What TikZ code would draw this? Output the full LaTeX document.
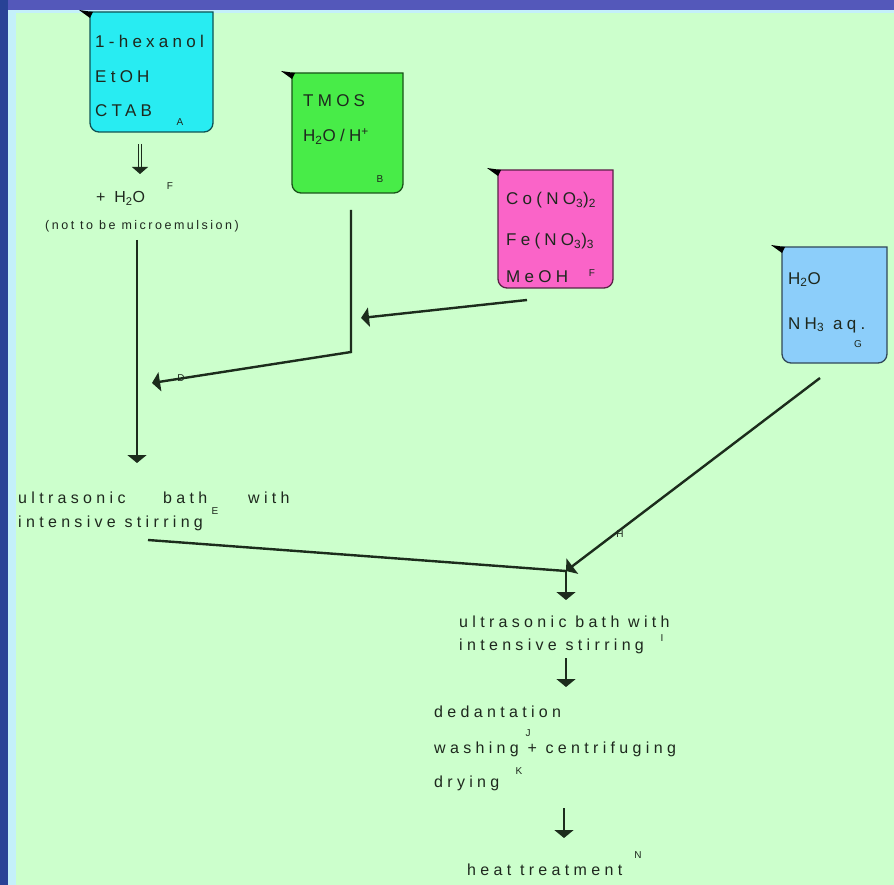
\documentclass[tikz,border=0pt]{standalone}
\usepackage{fontspec}
\setmainfont{Liberation Sans}
\newfontfamily\spaced{Liberation Sans}[LetterSpace=25]
\newfontfamily\flowsp{Liberation Sans}[LetterSpace=27]
\newfontfamily\squeezed{Liberation Sans}[LetterSpace=20]
\usetikzlibrary{arrows.meta}
\definecolor{bg}{RGB}{204,255,204}
\definecolor{topband}{RGB}{84,88,186}
\definecolor{leftband}{RGB}{40,66,150}
\definecolor{lightstrip}{RGB}{196,240,250}
\definecolor{cyanb}{RGB}{40,236,242}
\definecolor{greenb}{RGB}{72,236,72}
\definecolor{pinkb}{RGB}{250,100,200}
\definecolor{blueb}{RGB}{140,206,250}
\definecolor{ink}{RGB}{28,44,28}
\definecolor{txt}{RGB}{30,40,30}
\newcommand{\beakershape}[2]{%
  \path[draw=#2!35!black, line width=1.3pt, fill=#2] (#1.north west) -- (#1.north east) [rounded corners=9pt] -- (#1.south east) -- (#1.south west) [sharp corners] -- cycle;
  \fill[black] ([shift={(-11,-2)}]#1.north west) -- ([shift={(3,0)}]#1.north west) -- ([shift={(0,6)}]#1.north west) -- cycle;
}
\begin{document}
\begin{tikzpicture}[x=1pt,y=-1pt,
  box/.style={inner sep=0pt, outer sep=0pt},
  bt/.style={anchor=base west, inner sep=0pt, text=txt, font=\spaced\fontsize{17}{19}\selectfont},
  ft/.style={anchor=base west, inner sep=0pt, text=txt, font=\flowsp\fontsize{16}{18}\selectfont},
  lab/.style={inner sep=0pt, text=txt, font=\fontsize{10}{11}\selectfont},
  flow/.style={draw=ink, line width=2.4pt},
  tip/.style={flow, -{Triangle[width=19pt,length=8pt]}},
  dbl/.style={draw=ink, line width=0.9pt, double=bg, double distance=2.6pt, -{Triangle[width=16pt,length=7pt]}}
]
\useasboundingbox (0,0) rectangle (894,885);
% frame
\fill[bg] (0,0) rectangle (894,885);
\fill[topband] (0,0) rectangle (894,10);
\fill[lightstrip] (8,10) rectangle (894,13);
\fill[leftband] (0,0) rectangle (8,885);
\fill[lightstrip] (8,10) rectangle (16,885);

% beakers
\node[box, minimum width=123pt, minimum height=120pt] (A) at (151.5,72) {};
\node[box, minimum width=111pt, minimum height=120pt] (B) at (347.5,133) {};
\node[box, minimum width=115pt, minimum height=118pt] (C) at (555.5,229) {};
\node[box, minimum width=105pt, minimum height=116pt] (D) at (834.5,305) {};
\beakershape{A}{cyanb}
\beakershape{B}{greenb}
\beakershape{C}{pinkb}
\beakershape{D}{blueb}

% beaker texts
\node[bt] (a1) at (95,48) {1-hexanol};
\node[bt] (a2) at (95,83) {EtOH};
\node[bt] (a3) at (95,117) {CTAB};
\node[lab] (la) at (180,122) {A};

\node[bt] (b1) at (303,107) {TMOS};
\node[bt] (b2) at (303,142) {H\textsubscript{2}O/H\textsuperscript{+}};
\node[lab] (lb) at (380,179) {B};

\node[bt] (c1) at (506,205) {Co(NO\textsubscript{3})\textsubscript{2}};
\node[bt] (c2) at (506,246) {Fe(NO\textsubscript{3})\textsubscript{3}};
\node[bt] (c3) at (506,283) {MeOH};
\node[lab] (lc) at (592,273) {F};

\node[bt] (d1) at (788,284) {H\textsubscript{2}O};
\node[bt] (d2) at (788,329) {NH\textsubscript{3} aq.};
\node[lab] (ld) at (858,344) {G};

% left branch texts
\node[ft] (w1) at (96,203) {+ H\textsubscript{2}O};
\node[lab] (lw) at (170,186) {F};
\node[anchor=base, inner sep=0pt, text=txt, font=\squeezed\fontsize{12.5}{14}\selectfont] (w2) at (142,230) {(not to be microemulsion)};

\node[ft] (u1a) at (18,503) {ultrasonic};
\node[ft] (u1b) at (163,503) {bath};
\node[ft] (u1c) at (248,503) {with};
\node[ft] (u1d) at (18,527) {intensive stirring};
\node[lab] (lu1) at (215,511) {E};

\node[ft] (u2a) at (459,627) {ultrasonic bath with};
\node[ft] (u2b) at (459,650) {intensive stirring};
\node[lab] (lu2) at (662,638) {I};

\node[ft] (p1) at (434,717) {dedantation};
\node[ft] (p2) at (434,753) {washing + centrifuging};
\node[lab] (lp2) at (528,733) {J};
\node[ft] (p3) at (434,787) {drying};
\node[lab] (lp3) at (519,771) {K};

\node[ft] (h1) at (467,875) {heat treatment};
\node[lab] (lh) at (638,855) {N};

\node[lab] (lbr) at (181,378) {D};
\node[lab] (ldr) at (620,534) {H};

% connector coordinates
\coordinate (dA1) at (140,144);
\coordinate (dA2) at (140,174);
\coordinate (vA1) at (137,240);
\coordinate (vA2) at (137,463);
\coordinate (vB1) at (351,210);
\coordinate (vB2) at (351,352);
\coordinate (jB) at (152,383);
\coordinate (sC) at (527,300);
\coordinate (jC) at (361,318);
\coordinate (sD) at (820,378);
\coordinate (m1) at (148,540);
\coordinate (m2) at (566,571);
\coordinate (s1) at (566,571);
\coordinate (s1e) at (566,600);
\coordinate (s2) at (566,658);
\coordinate (s2e) at (566,687);
\coordinate (s3) at (564,808);
\coordinate (s3e) at (564,838);

% connectors
\draw[dbl] (dA1) -- (dA2);
\draw[tip] (vA1) -- (vA2);
\draw[tip] (vB1) -- (vB2) -- (jB);
\draw[tip] (sC) -- (jC);
\draw[flow] (m1) -- (m2);
\draw[tip] (sD) -- (m2);
\draw[tip] (s1) -- (s1e);
\draw[tip] (s2) -- (s2e);
\draw[tip] (s3) -- (s3e);
\end{tikzpicture}
\end{document}
